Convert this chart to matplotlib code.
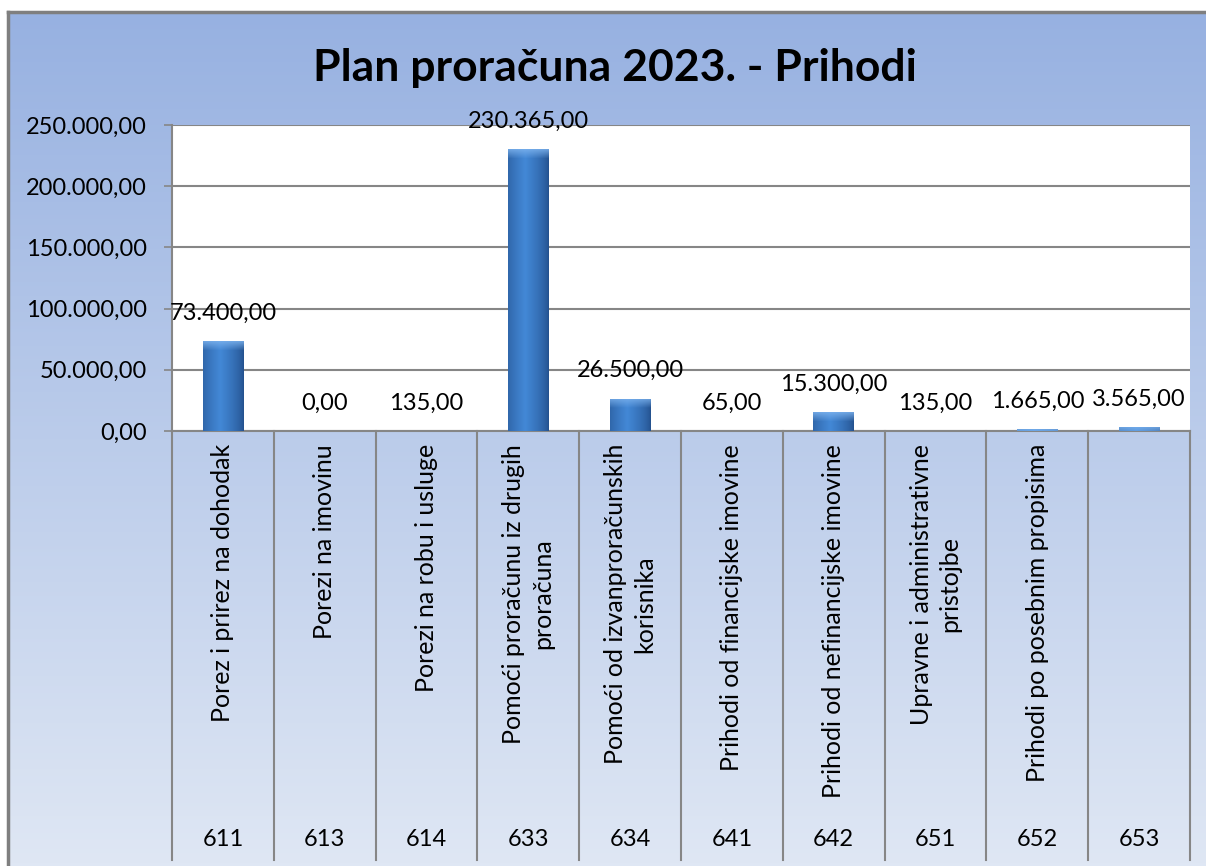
import numpy as np
import matplotlib
matplotlib.use("Agg")
import matplotlib.pyplot as plt
import matplotlib.transforms as mtransforms
from matplotlib.colors import to_rgb

# ---- data ----
codes = ["611", "613", "614", "633", "634", "641", "642", "651", "652", "653"]
categories = [
    "Porez i prirez na dohodak",
    "Porezi na imovinu",
    "Porezi na robu i usluge",
    "Pomoći proračunu iz drugih\nproračuna",
    "Pomoći od izvanproračunskih\nkorisnika",
    "Prihodi od financijske imovine",
    "Prihodi od nefinancijske imovine",
    "Upravne i administrativne\npristojbe",
    "Prihodi po posebnim propisima",
    "",
]
values = [73400, 0, 135, 230365, 26500, 65, 15300, 135, 1665, 3565]
yticks = [0, 50000, 100000, 150000, 200000, 250000]
title = "Plan proračuna 2023. - Prihodi"


def hr(v):
    s = f"{v:,.2f}"
    return s.replace(",", "X").replace(".", ",").replace("X", ".")


plt.rcParams["font.family"] = ["Lato", "DejaVu Sans"]
W, H = 1206, 866
fig = plt.figure(figsize=(W / 100, H / 100), dpi=100)
fig.patch.set_facecolor("white")

# background chart area with vertical gradient
bg = fig.add_axes([8 / W, 0, 1 - 8 / W, 1 - 12 / H])
bg.set_axis_off()
top_c = np.array(to_rgb("#97B1E1"))
bot_c = np.array(to_rgb("#DFE7F4"))
t = np.linspace(0, 1, 256)[:, None]
grad = top_c[None, :] * (1 - t) + bot_c[None, :] * t
bg.imshow(grad[:, None, :].repeat(2, axis=1), aspect="auto", extent=[0, 1, 0, 1],
          origin="upper", zorder=0)
bg.set_xlim(0, 1)
bg.set_ylim(0, 1)
bg.plot([0, 0], [0, 1], color="#7F7F7F", lw=2.5, transform=bg.transAxes, clip_on=False)
bg.plot([0, 1], [1, 1], color="#7F7F7F", lw=2.5, transform=bg.transAxes, clip_on=False)

# main axes
L, R, T, B = 172, 1190, 125, 431
ax = fig.add_axes([L / W, 1 - B / H, (R - L) / W, (B - T) / H])
ax.set_facecolor("white")
n = len(values)
x = np.arange(n)
ax.set_xlim(-0.5, n - 0.5)
ax.set_ylim(0, 250000)
ax.set_yticks(yticks)
ax.set_yticklabels([hr(v) for v in yticks], fontsize=17)
ax.tick_params(axis="y", length=6, width=1.2, color="#868686", pad=12)
ax.tick_params(axis="x", length=0, labelbottom=False)
ax.yaxis.grid(True, color="#868686", lw=1.5)
ax.set_axisbelow(True)
for s in ["top", "right"]:
    ax.spines[s].set_visible(False)
for s in ["left", "bottom"]:
    ax.spines[s].set_color("#868686")
    ax.spines[s].set_linewidth(1.5)

bars = ax.bar(x, values, width=0.4, color="#3A78C8", zorder=3)

# gradient fill for bars
fig.canvas.draw()
edge = np.array(to_rgb("#24528F"))
mid = np.array(to_rgb("#4388D6"))
bevel = np.array(to_rgb("#7DB3EE"))
for b in bars:
    bb = b.get_window_extent()
    wpx = max(int(round(bb.width)), 2)
    hpx = max(int(round(bb.height)), 1)
    u = np.linspace(0, 1, wpx)
    prof = np.clip(1 - np.abs(u - 0.42) / 0.58, 0, 1) ** 0.7
    row = edge[None, :] * (1 - prof[:, None]) + mid[None, :] * prof[:, None]
    img = np.repeat(row[None, :, :], hpx, axis=0)
    nb = min(9, hpx)
    for k in range(nb):
        f = 0.8 * (1 - k / 9)
        img[k] = img[k] * (1 - f) + bevel * f
    x0, y0 = b.get_x(), b.get_y()
    im = ax.imshow(img, extent=[x0, x0 + b.get_width(), y0, y0 + b.get_height()],
                   aspect="auto", origin="upper", zorder=4, interpolation="bilinear")
    im.set_clip_path(b)
    ax.set_xlim(-0.5, n - 0.5)
    ax.set_ylim(0, 250000)

# value labels
for xi, v in zip(x, values):
    ax.annotate(hr(v), (xi, v), xytext=(0, 20), textcoords="offset points",
                ha="center", va="center", fontsize=17, zorder=6)

# category separators and labels below axis
tr = mtransforms.blended_transform_factory(ax.transData, ax.transAxes)
sep_bottom = -(860 - B) / (B - T)
for i in range(n + 1):
    ax.plot([i - 0.5, i - 0.5], [0, sep_bottom], color="#868686", lw=1.5,
            transform=tr, clip_on=False, zorder=2)
lab_top = -(444 - B) / (B - T)
code_y = -(840 - B) / (B - T)
for xi, c, code in zip(x, categories, codes):
    if c:
        ax.text(xi, lab_top, c, rotation=90, ha="center", va="top",
                multialignment="center", fontsize=18, transform=tr,
                linespacing=1.3)
    ax.text(xi, code_y, code, ha="center", va="center", fontsize=17, transform=tr)

fig.text(615 / W, 1 - 68 / H, title, ha="center", va="center", fontsize=32,
         fontweight="bold")

fig.savefig("out.png", dpi=100)
